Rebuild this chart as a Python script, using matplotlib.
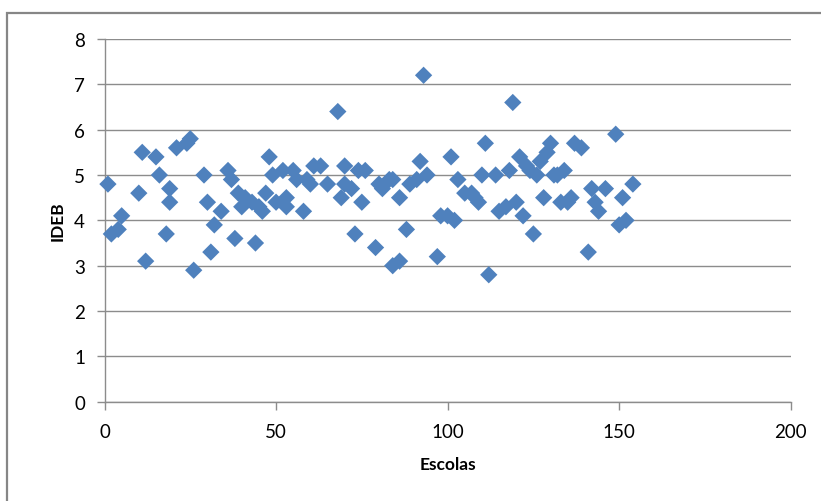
import matplotlib
matplotlib.use("Agg")
import matplotlib.pyplot as plt
from matplotlib.patches import Rectangle

# IDEB score per school (school index on x)
escolas = [1, 2, 4, 5, 10, 11, 12, 15, 16, 18, 19, 19, 21, 24, 25, 26, 29, 30, 31, 32,
           34, 36, 37, 38, 39, 40, 41, 43, 44, 45, 46, 47, 48, 49, 50, 52, 53, 53, 55, 56,
           58, 59, 60, 61, 63, 65, 68, 69, 70, 70, 72, 73, 74, 75, 76, 79, 80, 81, 83, 84,
           84, 86, 86, 88, 89, 91, 92, 93, 94, 97, 98, 100, 101, 102, 103, 105, 107, 108, 109, 110,
           111, 112, 114, 115, 117, 118, 119, 120, 121, 122, 123, 124, 125, 126, 127, 128, 129, 130, 131, 132,
           133, 134, 135, 136, 137, 139, 141, 142, 143, 144, 146, 149, 150, 151, 152, 154]
ideb = [4.8, 3.7, 3.8, 4.1, 4.6, 5.5, 3.1, 5.4, 5.0, 3.7, 4.7, 4.4, 5.6, 5.7, 5.8, 2.9, 5.0, 4.4, 3.3, 3.9,
        4.2, 5.1, 4.9, 3.6, 4.6, 4.3, 4.5, 4.4, 3.5, 4.3, 4.2, 4.6, 5.4, 5.0, 4.4, 5.1, 4.3, 4.5, 5.1, 4.9,
        4.2, 4.9, 4.8, 5.2, 5.2, 4.8, 6.4, 4.5, 5.2, 4.8, 4.7, 3.7, 5.1, 4.4, 5.1, 3.4, 4.8, 4.7, 4.9, 4.9,
        3.0, 3.1, 4.5, 3.8, 4.8, 4.9, 5.3, 7.2, 5.0, 3.2, 4.1, 4.1, 5.4, 4.0, 4.9, 4.6, 4.6, 4.5, 4.4, 5.0,
        5.7, 2.8, 5.0, 4.2, 4.3, 5.1, 6.6, 4.4, 5.4, 4.1, 5.2, 5.1, 3.7, 5.0, 5.3, 4.5, 5.5, 5.7, 5.0, 5.0,
        4.4, 5.1, 4.4, 4.5, 5.7, 5.6, 3.3, 4.7, 4.4, 4.2, 4.7, 5.9, 3.9, 4.5, 4.0, 4.8]

x_ticks = [0, 50, 100, 150, 200]
y_ticks = [0, 1, 2, 3, 4, 5, 6, 7, 8]

plt.rcParams['font.family'] = ['Lato', 'DejaVu Sans']

W, H = 821, 502
fig = plt.figure(figsize=(W / 100, H / 100), dpi=100)
fig.patch.set_facecolor('white')

# chart-area border
fig.patches.append(Rectangle((7 / W, -0.05), 1.2, (1 - 14 / H) + 0.05,
                             transform=fig.transFigure, fill=False,
                             edgecolor='#868686', linewidth=1.6, zorder=0))

left, right = 104.5 / W, 790.7 / W
bottom, top = 1 - 402.7 / H, 1 - 40 / H
ax = fig.add_axes([left, bottom, right - left, top - bottom])

ax.scatter(escolas, ideb, marker='D', s=8.8 ** 2, color='#4F81BD',
           edgecolors='none', zorder=3, clip_on=False)

ax.set_xlim(0, 200)
ax.set_ylim(0, 8)
ax.set_xticks(x_ticks)
ax.set_yticks(y_ticks)

grid_c = '#8c8c8c'
ax.yaxis.grid(True, color=grid_c, linewidth=1.0)
ax.xaxis.grid(False)
ax.set_axisbelow(True)

for s in ['top', 'right']:
    ax.spines[s].set_visible(False)
for s in ['left', 'bottom']:
    ax.spines[s].set_color(grid_c)
    ax.spines[s].set_linewidth(1.0)

ax.tick_params(axis='y', direction='out', length=6, width=1.0, color=grid_c,
               labelsize=13.5, labelcolor='#000000', pad=8)
ax.tick_params(axis='x', direction='out', length=6, width=1.0, color=grid_c,
               labelsize=13.5, labelcolor='#000000', pad=9)

ax.set_xlabel('Escolas', fontsize=12.5, fontweight='bold', labelpad=12)
ax.set_ylabel('IDEB', fontsize=12.5, fontweight='bold', labelpad=6)

fig.savefig('out.png', dpi=100)
